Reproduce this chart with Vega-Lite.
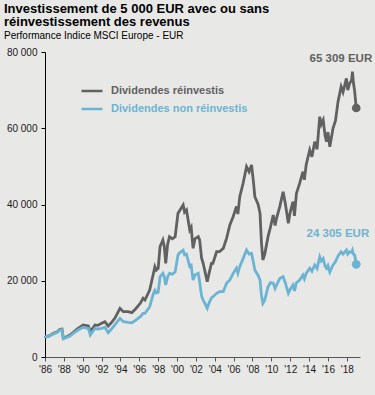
{
 "$schema": "https://vega.github.io/schema/vega-lite/v6.json",
 "width": 315, "height": 305,
 "autosize": "none",
 "padding": {"left": 45, "top": 52, "right": 15, "bottom": 38},
 "background": "#e8e8e6",
 "config": {"font": "Liberation Sans", "view": {"stroke": null}},
 "title": {
  "text": ["Investissement de 5 000 EUR avec ou sans", "réinvestissement des revenus"],
  "subtitle": "Performance Indice MSCI Europe - EUR",
  "anchor": "start", "frame": "group", "dx": -41, "offset": 6,
  "fontSize": 13, "fontWeight": "bold", "color": "#000", "lineHeight": 13.5,
  "subtitleFontSize": 10, "subtitleColor": "#000", "subtitlePadding": 2
 },
 "data": {"values": [
  {"year":1986.0,"reinv":5000,"non":5000},
  {"year":1986.1,"reinv":5300,"non":5300},
  {"year":1986.5,"reinv":5600,"non":5550},
  {"year":1986.9,"reinv":6200,"non":6100},
  {"year":1987.3,"reinv":6600,"non":6450},
  {"year":1987.6,"reinv":7260,"non":7100},
  {"year":1987.8,"reinv":7340,"non":7200},
  {"year":1987.94,"reinv":4900,"non":4800},
  {"year":1988.3,"reinv":5300,"non":5150},
  {"year":1988.65,"reinv":5770,"non":5500},
  {"year":1989.0,"reinv":6500,"non":6200},
  {"year":1989.5,"reinv":7520,"non":7080},
  {"year":1990.05,"reinv":8400,"non":7790},
  {"year":1990.6,"reinv":8130,"non":7500},
  {"year":1990.8,"reinv":6640,"non":5770},
  {"year":1991.3,"reinv":8400,"non":7520},
  {"year":1991.6,"reinv":8300,"non":7300},
  {"year":1992.0,"reinv":8840,"non":7520},
  {"year":1992.35,"reinv":9260,"non":7800},
  {"year":1992.7,"reinv":8130,"non":6380},
  {"year":1993.0,"reinv":8900,"non":7200},
  {"year":1993.4,"reinv":10150,"non":8400},
  {"year":1993.95,"reinv":12770,"non":10150},
  {"year":1994.3,"reinv":11890,"non":9260},
  {"year":1994.8,"reinv":11890,"non":9100},
  {"year":1995.2,"reinv":11620,"non":9000},
  {"year":1995.6,"reinv":12600,"non":9600},
  {"year":1996.1,"reinv":14080,"non":10570},
  {"year":1996.4,"reinv":15400,"non":11460},
  {"year":1996.6,"reinv":14950,"non":11460},
  {"year":1997.1,"reinv":17570,"non":13190},
  {"year":1997.5,"reinv":21950,"non":16710},
  {"year":1997.65,"reinv":23700,"non":17500},
  {"year":1997.8,"reinv":22800,"non":16800},
  {"year":1998.0,"reinv":23260,"non":17000},
  {"year":1998.2,"reinv":28930,"non":21060},
  {"year":1998.5,"reinv":30690,"non":21950},
  {"year":1998.65,"reinv":29000,"non":21000},
  {"year":1998.8,"reinv":24580,"non":18880},
  {"year":1999.0,"reinv":29500,"non":21000},
  {"year":1999.2,"reinv":31560,"non":21950},
  {"year":1999.5,"reinv":31000,"non":21700},
  {"year":1999.8,"reinv":31560,"non":22380},
  {"year":2000.1,"reinv":37690,"non":26750},
  {"year":2000.3,"reinv":38500,"non":27400},
  {"year":2000.65,"reinv":39870,"non":28000},
  {"year":2000.8,"reinv":38000,"non":26800},
  {"year":2001.0,"reinv":38560,"non":27000},
  {"year":2001.35,"reinv":33310,"non":23700},
  {"year":2001.5,"reinv":34000,"non":24000},
  {"year":2001.7,"reinv":28500,"non":20200},
  {"year":2001.9,"reinv":31000,"non":21500},
  {"year":2002.25,"reinv":31560,"non":21950},
  {"year":2002.4,"reinv":30690,"non":19750},
  {"year":2002.6,"reinv":26000,"non":16000},
  {"year":2002.77,"reinv":24580,"non":14950},
  {"year":2003.0,"reinv":22000,"non":13800},
  {"year":2003.2,"reinv":19750,"non":12770},
  {"year":2003.4,"reinv":22000,"non":14200},
  {"year":2003.65,"reinv":24580,"non":15500},
  {"year":2003.8,"reinv":24580,"non":15820},
  {"year":2004.2,"reinv":27620,"non":16710},
  {"year":2004.5,"reinv":27620,"non":17130},
  {"year":2004.9,"reinv":28500,"non":17130},
  {"year":2005.25,"reinv":31130,"non":19330},
  {"year":2005.6,"reinv":34620,"non":20200},
  {"year":2005.95,"reinv":36800,"non":21950},
  {"year":2006.3,"reinv":39500,"non":23300},
  {"year":2006.45,"reinv":37500,"non":22000},
  {"year":2006.65,"reinv":42050,"non":23700},
  {"year":2007.0,"reinv":45500,"non":25800},
  {"year":2007.37,"reinv":49920,"non":28070},
  {"year":2007.64,"reinv":48610,"non":27000},
  {"year":2007.9,"reinv":50360,"non":27200},
  {"year":2008.1,"reinv":46000,"non":24800},
  {"year":2008.25,"reinv":42050,"non":22820},
  {"year":2008.6,"reinv":40000,"non":21400},
  {"year":2008.8,"reinv":37690,"non":20200},
  {"year":2008.95,"reinv":30000,"non":16200},
  {"year":2009.1,"reinv":25440,"non":14080},
  {"year":2009.3,"reinv":27000,"non":14900},
  {"year":2009.65,"reinv":31560,"non":18440},
  {"year":2009.9,"reinv":34000,"non":19500},
  {"year":2010.2,"reinv":37250,"non":19330},
  {"year":2010.4,"reinv":34500,"non":18000},
  {"year":2010.55,"reinv":36380,"non":18880},
  {"year":2010.9,"reinv":39500,"non":20640},
  {"year":2011.25,"reinv":43360,"non":21060},
  {"year":2011.5,"reinv":40000,"non":19300},
  {"year":2011.8,"reinv":35060,"non":16710},
  {"year":2012.0,"reinv":38000,"non":17800},
  {"year":2012.3,"reinv":40740,"non":18880},
  {"year":2012.45,"reinv":37000,"non":17300},
  {"year":2012.66,"reinv":42900,"non":19500},
  {"year":2013.0,"reinv":45560,"non":20200},
  {"year":2013.35,"reinv":48600,"non":21500},
  {"year":2013.5,"reinv":46500,"non":20500},
  {"year":2013.7,"reinv":50500,"non":22000},
  {"year":2014.07,"reinv":54300,"non":23300},
  {"year":2014.3,"reinv":52500,"non":22500},
  {"year":2014.6,"reinv":56470,"non":24130},
  {"year":2014.85,"reinv":54500,"non":23200},
  {"year":2015.13,"reinv":63030,"non":26300},
  {"year":2015.3,"reinv":61000,"non":25200},
  {"year":2015.5,"reinv":62160,"non":25800},
  {"year":2015.7,"reinv":58000,"non":23800},
  {"year":2015.85,"reinv":56470,"non":23260},
  {"year":2016.0,"reinv":59000,"non":24000},
  {"year":2016.2,"reinv":55160,"non":22300},
  {"year":2016.54,"reinv":59990,"non":24130},
  {"year":2016.8,"reinv":62000,"non":25000},
  {"year":2017.07,"reinv":66970,"non":26500},
  {"year":2017.4,"reinv":70900,"non":27600},
  {"year":2017.6,"reinv":69500,"non":27000},
  {"year":2017.96,"reinv":73100,"non":28070},
  {"year":2018.1,"reinv":70000,"non":27000},
  {"year":2018.3,"reinv":71790,"non":27600},
  {"year":2018.5,"reinv":72500,"non":27400},
  {"year":2018.6,"reinv":74850,"non":28000},
  {"year":2018.7,"reinv":72000,"non":27000},
  {"year":2018.84,"reinv":69600,"non":26750},
  {"year":2019.0,"reinv":65309,"non":24305}
 ]},
 "transform": [{"fold": ["reinv", "non"], "as": ["series", "value"]}],
 "encoding": {
  "x": {"field": "year", "type": "quantitative",
   "scale": {"domain": [1986, 2019.4], "nice": false, "zero": false},
   "axis": {"values": [1986,1988,1990,1992,1994,1996,1998,2000,2002,2004,2006,2008,2010,2012,2014,2016,2018],
    "labelExpr": "\"'\" + slice(toString(datum.value), 2)",
    "grid": false, "title": null, "domainColor": "#555", "tickColor": "#555", "tickSize": 4,
    "labelFontSize": 10, "labelColor": "#1a1a1a", "labelPadding": 3, "labelFlush": false}},
  "y": {"field": "value", "type": "quantitative",
   "scale": {"domain": [0, 80000], "nice": false},
   "axis": {"values": [0, 20000, 40000, 60000, 80000],
    "labelExpr": "replace(format(datum.value, ','), ',', ' ')",
    "grid": false, "title": null, "domainColor": "#000", "tickColor": "#000", "tickSize": 4,
    "labelFontSize": 10, "labelColor": "#1a1a1a", "labelPadding": 4}}
 },
 "layer": [
  {"mark": {"type": "line", "strokeWidth": 2.8},
   "encoding": {"color": {"field": "series", "type": "nominal",
    "scale": {"domain": ["reinv", "non"], "range": ["#616161", "#6cb4d3"]},
    "legend": {"title": null, "orient": "none", "legendX": 35, "legendY": 27,
     "symbolType": "stroke", "symbolSize": 441, "symbolStrokeWidth": 2.5,
     "labelFontSize": 11, "labelFontWeight": "bold", "labelOffset": 7, "rowPadding": 1, "padding": 0,
     "labelExpr": "datum.value == 'reinv' ? 'Dividendes réinvestis' : 'Dividendes non réinvestis'",
     "encode": {"labels": {"update": {"fill": {"signal": "datum.value == 'reinv' ? '#616161' : '#6cb4d3'"}}}}}}}},
  {"transform": [{"filter": "datum.year == 2019"}],
   "mark": {"type": "circle", "size": 75, "opacity": 1},
   "encoding": {"color": {"field": "series", "type": "nominal", "legend": null}}},
  {"transform": [{"filter": "datum.year == 2019 && datum.series == 'reinv'"}],
   "mark": {"type": "text", "align": "right", "baseline": "middle", "dx": 16, "dy": -49, "fontWeight": "bold", "fontSize": 11.5, "color": "#616161"},
   "encoding": {"text": {"value": "65 309 EUR"}}},
  {"transform": [{"filter": "datum.year == 2019 && datum.series == 'non'"}],
   "mark": {"type": "text", "align": "right", "baseline": "middle", "dx": 13, "dy": -30, "fontWeight": "bold", "fontSize": 11.5, "color": "#6cb4d3"},
   "encoding": {"text": {"value": "24 305 EUR"}}}
 ]
}
